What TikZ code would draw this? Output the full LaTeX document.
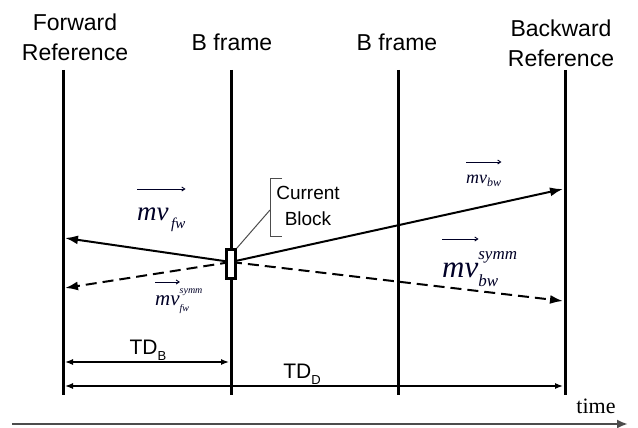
\documentclass[tikz,border=0pt]{standalone}
\usepackage{fontspec}
\setmainfont{Liberation Sans}
\newfontfamily\tms{Liberation Serif}
\usetikzlibrary{arrows.meta}
\newcommand\ssbx[3]{% #1 size, #2 sup, #3 sub
  \setbox0\hbox{\fontsize{#1}{#1}\selectfont #2}%
  \setbox2\hbox{\fontsize{#1}{#1}\selectfont #3}%
  \rlap{\raisebox{0.55em}{\copy0}}\rlap{\raisebox{-0.3em}{\copy2}}%
  \hskip\ifdim\wd0>\wd2 \wd0\else\wd2\fi}
\begin{document}
\begin{tikzpicture}[x=1pt,y=-1pt,
  frameline/.style={line width=3pt},
  mvarrow/.style={line width=2pt,-{Latex[length=13pt,width=9pt]}},
  mvdash/.style={mvarrow,dash pattern=on 11pt off 6pt},
  tdarrow/.style={line width=1.3pt,{Latex[length=8pt,width=6pt]}-{Latex[length=8pt,width=6pt]}},
  toplabel/.style={align=center,font=\fontsize{23}{30}\selectfont,inner sep=0pt},
  vlabel/.style={inner sep=0pt,anchor=base west,text=black!85!blue},
  overarrow/.style={line width=0.9pt,-{Straight Barb[length=3pt,width=4pt]},draw=black!85!blue},
  bracket/.style={line width=1pt,draw=black!70}]
\useasboundingbox (0,0) rectangle (638,428);
% header labels
\node[toplabel] (fwd) at (75,37) {Forward\\Reference};
\node[toplabel] (bf1) at (232,42) {B frame};
\node[toplabel] (bf2) at (397,42) {B frame};
\node[toplabel] (bwd) at (561,43) {Backward\\Reference};
% frame lines
\coordinate (f1t) at (63,70);  \coordinate (f1b) at (63,395);
\coordinate (f2t) at (231,70); \coordinate (f2b) at (231,395);
\coordinate (f3t) at (398,70); \coordinate (f3b) at (398,395);
\coordinate (f4t) at (565,70); \coordinate (f4b) at (565,395);
\draw[frameline] (f1t) -- (f1b);
\draw[frameline] (f2t) -- (f2b);
\draw[frameline] (f3t) -- (f3b);
\draw[frameline] (f4t) -- (f4b);
% motion vectors
\coordinate (cb) at (231,262);
\coordinate (tfl) at (65,238);
\coordinate (tdl) at (65,288);
\coordinate (tfr) at (563,189);
\coordinate (tdr) at (563,301);
\draw[mvarrow] (cb) -- (tfl);
\draw[mvdash] (cb) -- (tdl);
\draw[mvarrow] (cb) -- (tfr);
\draw[mvdash] (cb) -- (tdr);
% current block
\node[draw,line width=2.5pt,fill=white,minimum width=9pt,minimum height=29pt,inner sep=0pt] (blk) at (231,264) {};
\coordinate (bt1) at (282,178); \coordinate (bt2) at (270,178);
\coordinate (bb1) at (270,236); \coordinate (bb2) at (282,236);
\coordinate (lm) at (270,210);
\draw[bracket] (bt1) -- (bt2) -- (bb1) -- (bb2);
\draw[bracket] (lm) -- (blk.north east);
\node[align=center,font=\fontsize{19}{26}\selectfont,inner sep=0pt] (cblab) at (308,206) {Current\\Block};
% vector labels
\node[vlabel,font=\tms\itshape\fontsize{27}{27}\selectfont] (lfw) at (137,220)
  {mv\raisebox{-0.3em}{\fontsize{15}{15}\selectfont\,fw}};
\node[vlabel,font=\tms\itshape\fontsize{21}{21}\selectfont] (lfws) at (155,305)
  {mv\ssbx{10}{symm}{fw}};
\node[vlabel,font=\tms\itshape\fontsize{18}{18}\selectfont] (lbw) at (466,183)
  {mv\raisebox{-0.2em}{\fontsize{12}{12}\selectfont bw}};
\node[vlabel,font=\tms\itshape\fontsize{31}{31}\selectfont] (lbws) at (442,277)
  {mv\ssbx{17}{symm}{bw}};
\draw[overarrow] ([yshift=31pt]lfw.base west) -- ([yshift=31pt]lfw.base east);
\draw[overarrow] ([yshift=23pt]lfws.base west) -- ([yshift=23pt]lfws.base east);
\draw[overarrow] ([yshift=21pt]lbw.base west) -- ([yshift=21pt]lbw.base east);
\draw[overarrow] ([yshift=38pt]lbws.base west) -- ([yshift=38pt]lbws.base east);
% time distances
\coordinate (tb1) at (65,362);  \coordinate (tb2) at (229,362);
\coordinate (td1) at (65,386);  \coordinate (td2) at (563,386);
\draw[tdarrow] (tb1) -- (tb2);
\draw[tdarrow] (td1) -- (td2);
\node[font=\fontsize{21}{21}\selectfont,inner sep=0pt] (tdb) at (148,350)
  {TD\raisebox{-0.3em}{\fontsize{13}{13}\selectfont B}};
\node[font=\fontsize{21}{21}\selectfont,inner sep=0pt] (tdd) at (302,374)
  {TD\raisebox{-0.3em}{\fontsize{13}{13}\selectfont D}};
% time axis
\coordinate (ta1) at (12,424); \coordinate (ta2) at (628,424);
\draw[line width=2.5pt,draw=black!70,-{Latex[length=11pt,width=9pt]}] (ta1) -- (ta2);
\node[font=\tms\fontsize{22}{22}\selectfont,inner sep=0pt] (tlab) at (596,406) {time};
\end{tikzpicture}
\end{document}
